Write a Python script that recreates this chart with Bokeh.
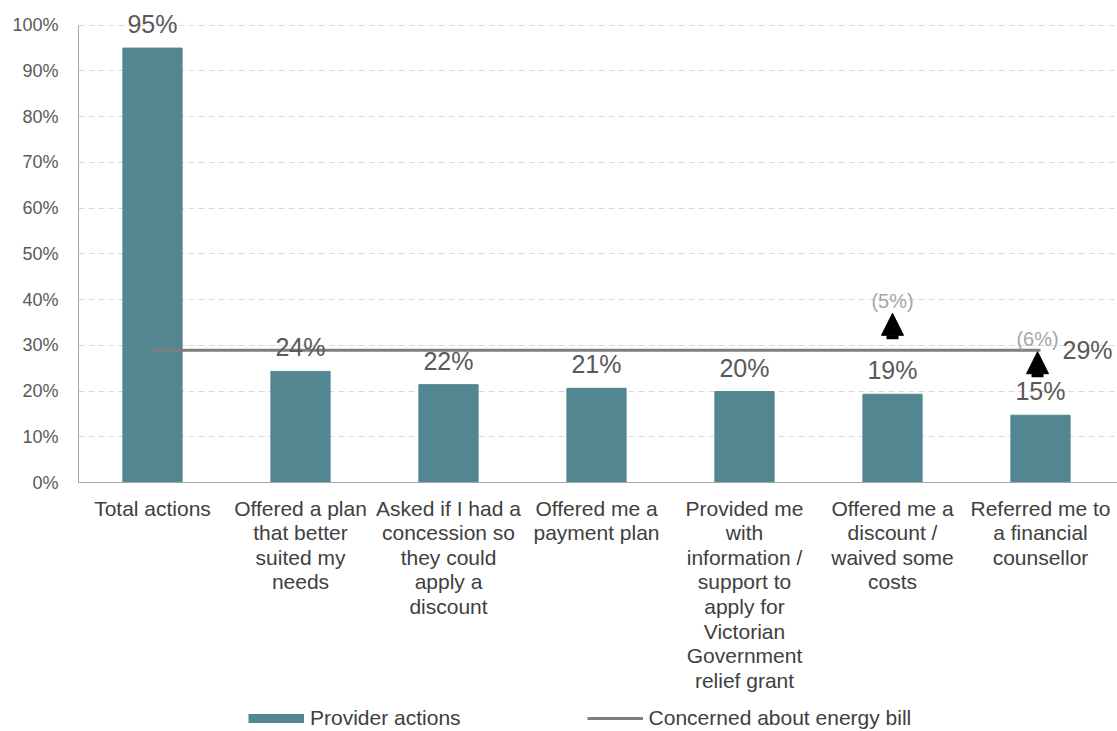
from bokeh.plotting import figure
from bokeh.models import (ColumnDataSource, Range1d, FixedTicker, LabelSet, Label, Span,
                          Arrow, NormalHead, Legend, LegendItem, PrintfTickFormatter)
from bokeh.core.properties import value
from bokeh.embed import file_html
from bokeh.resources import INLINE

categories = [
    "Total actions",
    "Offered a plan\nthat better\nsuited my\nneeds",
    "Asked if I had a\nconcession so\nthey could\napply a\ndiscount",
    "Offered me a\npayment plan",
    "Provided me\nwith\ninformation /\nsupport to\napply for\nVictorian\nGovernment\nrelief grant",
    "Offered me a\ndiscount /\nwaived some\ncosts",
    "Referred me to\na financial\ncounsellor",
]
provider_actions = [95.0, 24.3, 21.4, 20.6, 19.9, 19.3, 14.7]
value_labels = ["95%", "24%", "22%", "21%", "20%", "19%", "15%"]
concerned_value = 28.9
concerned_label = "29%"
increase_index = [5, 6]
increase_labels = ["(5%)", "(6%)"]
y_ticks = [0, 10, 20, 30, 40, 50, 60, 70, 80, 90, 100]

TEAL = "#528690"
FONT = "Liberation Sans"

W, H = 1117, 730
LEFT, TOP = 78, 11
SPACING = 148
PX_PER_PCT = 471 / 103
ZERO_Y = 482  # page y of the 0% baseline
LINE_H = 24.6

idx = list(range(len(categories)))
src = ColumnDataSource(dict(x=idx, top=provider_actions, lab=value_labels))

# one row per wrapped line of each category label
cx, cy, ct, co = [], [], [], []
for i, cat in zip(idx, categories):
    for k, part in enumerate(cat.split("\n")):
        cx.append(i)
        cy.append(0)
        ct.append(part)
        co.append(-14 - k * LINE_H)
cat_src = ColumnDataSource(dict(x=cx, y=cy, text=ct, off=co))

p = figure(width=W, height=H, output_backend="svg", toolbar_location=None,
           x_range=Range1d(-0.5, -0.5 + (W - LEFT) / SPACING),
           y_range=Range1d(-(H - ZERO_Y) / PX_PER_PCT, 103),
           min_border_left=LEFT, min_border_right=0, min_border_top=TOP, min_border_bottom=0)
p.outline_line_color = None
p.background_fill_color = "white"

bars = p.vbar(x="x", top="top", width=0.4, source=src, fill_color=TEAL, line_color=TEAL)

line = p.line(x=[idx[0], idx[-1]], y=[concerned_value, concerned_value],
              line_color="#7f7f7f", line_width=3)

# legend proxy for bars (flat swatch), hidden on the plot itself
proxy = p.line(x=[idx[0], idx[-1]], y=[concerned_value, concerned_value],
               line_color=TEAL, line_width=9, visible=False)

labels = LabelSet(x="x", y="top", text="lab", source=src, text_align="center",
                  text_baseline="alphabetic", y_offset=15, text_font=value(FONT),
                  text_font_size="25px", text_color="#595959")
p.add_layout(labels)

# category labels under the baseline
cat_labels = LabelSet(x="x", y="y", text="text", y_offset="off", source=cat_src,
                      text_align="center", text_baseline="top", text_font=value(FONT),
                      text_font_size="21px", text_color="#404040")
p.add_layout(cat_labels)

# x baseline
p.add_layout(Span(location=0, dimension="width", line_color="#a6a6a6", line_width=1))

p.add_layout(Label(x=idx[-1], y=concerned_value, text=concerned_label, x_offset=22,
                   text_baseline="middle", text_align="left", text_font=FONT,
                   text_font_size="25px", text_color="#595959"))

# increase arrows
arrow_spans = [(31.3, 37.0), (23.0, 28.6)]
label_levels = [39.6, 31.3]
for i, (i_x, (y0, y1), lab, ly) in enumerate(zip(increase_index, arrow_spans, increase_labels, label_levels)):
    xx = i_x - (0.02 if i == 1 else 0)
    p.add_layout(Arrow(x_start=xx, y_start=y0, x_end=xx, y_end=y1,
                       line_width=12, line_color="black",
                       end=NormalHead(size=22, fill_color="black", line_color="black", line_width=1)))
    p.add_layout(Label(x=xx, y=ly, text=lab, text_align="center", text_baseline="middle",
                       text_font=FONT, text_font_size="20px", text_color="#a6a6a6"))

# axes
p.yaxis.ticker = FixedTicker(ticks=y_ticks)
p.yaxis.formatter = PrintfTickFormatter(format="%d%%")
p.yaxis.bounds = (0, 100)
p.yaxis.axis_line_color = "#a6a6a6"
p.yaxis.major_tick_line_color = None
p.yaxis.minor_tick_line_color = None
p.yaxis.major_label_text_font = FONT
p.yaxis.major_label_text_font_size = "18px"
p.yaxis.major_label_text_color = "#595959"
p.yaxis.major_label_standoff = 14

p.xaxis.visible = False

p.xgrid.grid_line_color = None
p.ygrid.ticker = FixedTicker(ticks=y_ticks[1:])
p.ygrid.grid_line_color = "#d9d9d9"
p.ygrid.grid_line_dash = "6 4"

legend = Legend(items=[LegendItem(label="Provider actions", renderers=[proxy]),
                       LegendItem(label="Concerned about energy bill", renderers=[line])],
                location=(170, 0), orientation="horizontal",
                border_line_color=None, background_fill_alpha=0, padding=0, margin=0,
                spacing=126, glyph_width=56, label_standoff=6,
                label_text_font=FONT, label_text_font_size="21px", label_text_color="#404040")
p.add_layout(legend, "center")

open("out.html", "w").write(file_html(p, INLINE))
